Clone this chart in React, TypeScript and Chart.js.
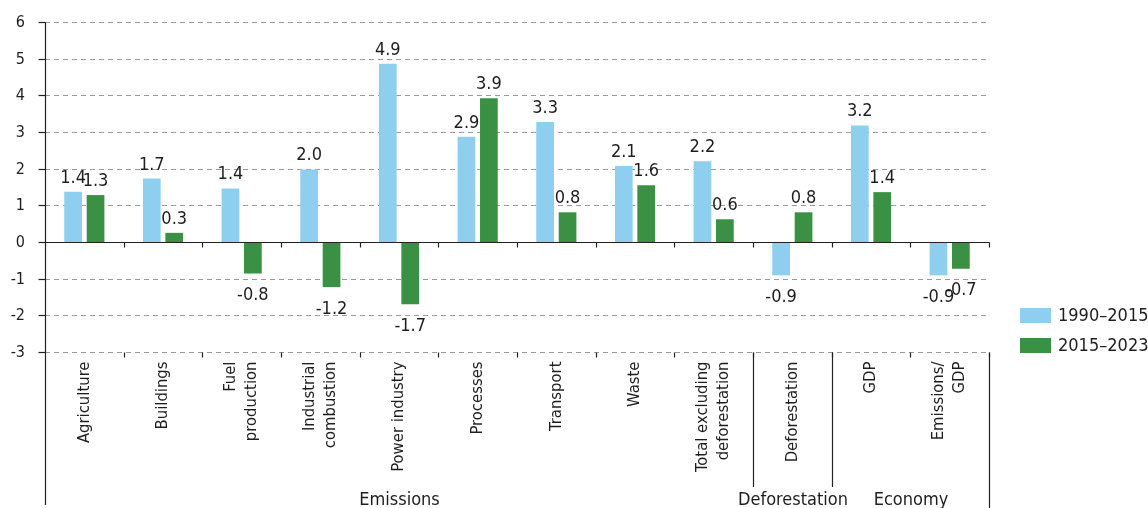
import React, { useEffect, useRef } from "react";
import { Chart, registerables } from "chart.js";

Chart.register(...registerables);

const categories: string[][] = [
  ["Agriculture"],
  ["Buildings"],
  ["Fuel", "production"],
  ["Industrial", "combustion"],
  ["Power industry"],
  ["Processes"],
  ["Transport"],
  ["Waste"],
  ["Total excluding", "deforestation"],
  ["Deforestation"],
  ["GDP"],
  ["Emissions/", "GDP"],
];
const seriesNames = ["1990–2015", "2015–2023"];
const values1990 = [1.37, 1.73, 1.46, 1.98, 4.86, 2.87, 3.27, 2.07, 2.2, -0.91, 3.18, -0.91];
const values2015 = [1.28, 0.25, -0.86, -1.23, -1.7, 3.92, 0.81, 1.55, 0.62, 0.81, 1.36, -0.73];
const labels1990 = ["1.4", "1.7", "1.4", "2.0", "4.9", "2.9", "3.3", "2.1", "2.2", "-0.9", "3.2", "-0.9"];
const labels2015 = ["1.3", "0.3", "-0.8", "-1.2", "-1.7", "3.9", "0.8", "1.6", "0.6", "0.8", "1.4", "-0.7"];
const groupNames = ["Emissions", "Deforestation", "Economy"];
const groupSizes = [9, 1, 2];
const yTicks = [-3, -2, -1, 0, 1, 2, 3, 4, 5, 6];

const BLUE = "#8ecfef";
const GREEN = "#3a9144";
const TEXT = "#1e1e1e";
const AXIS = "#222222";
const FONT = '"DejaVu Sans Condensed", "DejaVu Sans", sans-serif';

const decorPlugin = {
  id: "decor",
  beforeDatasetsDraw(chart: any) {
    const { ctx, chartArea } = chart;
    const y = chart.scales.y;
    ctx.save();
    ctx.strokeStyle = "#9a9a9a";
    ctx.lineWidth = 1;
    ctx.setLineDash([5, 4]);
    yTicks.forEach((v) => {
      if (v === 0) return;
      const py = Math.round(y.getPixelForValue(v)) + 0.5;
      ctx.beginPath();
      ctx.moveTo(chartArea.left, py);
      ctx.lineTo(chartArea.right, py);
      ctx.stroke();
    });
    ctx.restore();
  },
  afterDatasetsDraw(chart: any) {
    const { ctx, chartArea } = chart;
    const x = chart.scales.x;
    const y = chart.scales.y;
    const left = Math.round(chartArea.left) + 0.5;
    const right = Math.round(chartArea.right) + 0.5;
    const y0 = Math.round(y.getPixelForValue(0)) + 0.5;
    const yb = Math.round(y.getPixelForValue(-3)) + 0.5;
    const n = categories.length;
    const catW = (chartArea.right - chartArea.left) / n;
    const boundary = (i: number) => Math.round(chartArea.left + i * catW) + 0.5;

    ctx.save();
    ctx.strokeStyle = AXIS;
    ctx.lineWidth = 1.2;
    ctx.setLineDash([]);

    // zero line
    ctx.beginPath();
    ctx.moveTo(left, y0);
    ctx.lineTo(right, y0);
    ctx.stroke();

    // left axis
    ctx.beginPath();
    ctx.moveTo(left, Math.round(chartArea.top) + 0.5);
    ctx.lineTo(left, 505);
    ctx.stroke();

    // y tick marks
    yTicks.forEach((v) => {
      const py = Math.round(y.getPixelForValue(v)) + 0.5;
      ctx.beginPath();
      ctx.moveTo(left - 7, py);
      ctx.lineTo(left, py);
      ctx.stroke();
    });

    // category boundary ticks
    for (let i = 1; i <= n; i++) {
      const bx = boundary(i);
      ctx.beginPath();
      ctx.moveTo(bx, y0);
      ctx.lineTo(bx, y0 + 5);
      ctx.stroke();
      ctx.beginPath();
      ctx.moveTo(bx, yb);
      ctx.lineTo(bx, yb + 5);
      ctx.stroke();
    }

    // group separators
    let acc = 0;
    groupSizes.forEach((s, gi) => {
      acc += s;
      const bx = boundary(acc);
      ctx.beginPath();
      ctx.moveTo(bx, yb);
      ctx.lineTo(bx, gi === groupSizes.length - 1 ? 508 : 487);
      ctx.stroke();
    });

    // y tick labels
    ctx.fillStyle = TEXT;
    ctx.font = `16px ${FONT}`;
    ctx.textAlign = "right";
    ctx.textBaseline = "middle";
    yTicks.forEach((v) => {
      const py = y.getPixelForValue(v);
      ctx.fillText(String(v), 25, py + 1);
    });

    // data labels
    ctx.font = `18px ${FONT}`;
    ctx.textAlign = "center";
    const series = [labels1990, labels2015];
    const vals = [values1990, values2015];
    series.forEach((labs, di) => {
      const meta = chart.getDatasetMeta(di);
      meta.data.forEach((bar: any, i: number) => {
        const v = vals[di][i];
        if (v >= 0) {
          ctx.textBaseline = "alphabetic";
          ctx.fillText(labs[i], bar.x, bar.y - 9);
        } else {
          ctx.textBaseline = "top";
          ctx.fillText(labs[i], bar.x, bar.y + 13);
        }
      });
    });

    // category labels (rotated)
    ctx.font = `16.5px ${FONT}`;
    ctx.textAlign = "right";
    ctx.textBaseline = "middle";
    categories.forEach((lines, i) => {
      const cx = x.getPixelForValue(i);
      ctx.save();
      ctx.translate(cx, yb + 9);
      ctx.rotate(-Math.PI / 2);
      lines.forEach((line, li) => {
        const off = (li - (lines.length - 1) / 2) * 21;
        ctx.fillText(line, 0, off);
      });
      ctx.restore();
    });

    // group labels
    ctx.font = `18px ${FONT}`;
    ctx.textAlign = "center";
    ctx.textBaseline = "alphabetic";
    let start = 0;
    groupSizes.forEach((s, gi) => {
      const gx = (boundary(start) + boundary(start + s)) / 2;
      ctx.fillText(groupNames[gi], gx, 505);
      start += s;
    });

    // legend
    const colors = [BLUE, GREEN];
    ctx.textAlign = "left";
    ctx.textBaseline = "middle";
    seriesNames.forEach((name, i) => {
      const top = 308 + i * 30;
      ctx.fillStyle = colors[i];
      ctx.fillRect(1020, top, 31, 15);
      ctx.fillStyle = TEXT;
      ctx.fillText(name, 1058, top + 8);
    });

    ctx.restore();
  },
};

export default function App() {
  const canvasRef = useRef<HTMLCanvasElement | null>(null);

  useEffect(() => {
    const canvas = canvasRef.current;
    if (!canvas) return;
    const chart = new Chart(canvas, {
      type: "bar",
      data: {
        labels: categories.map((c) => c.join(" ")),
        datasets: [
          {
            label: seriesNames[0],
            data: values1990,
            backgroundColor: BLUE,
            borderWidth: 0,
            categoryPercentage: 0.57,
            barPercentage: 0.79,
          },
          {
            label: seriesNames[1],
            data: values2015,
            backgroundColor: GREEN,
            borderWidth: 0,
            categoryPercentage: 0.57,
            barPercentage: 0.79,
          },
        ],
      },
      options: {
        responsive: false,
        animation: false,
        devicePixelRatio: 1,
        layout: { padding: { left: 0, right: 159, top: 22, bottom: 156 } },
        plugins: {
          legend: { display: false },
          tooltip: { enabled: false },
        },
        scales: {
          x: { display: false, offset: true, grid: { display: false } },
          y: {
            min: -3,
            max: 6,
            ticks: { display: false, stepSize: 1 },
            grid: { display: false },
            border: { display: false },
            afterFit: (s: any) => {
              s.width = 45;
            },
          },
        },
      },
      plugins: [decorPlugin],
    } as any);
    return () => chart.destroy();
  }, []);

  return (
    <div style={{ position: "absolute", left: 0, top: 0, width: 1148, height: 508, background: "#fff" }}>
      <canvas ref={canvasRef} width={1148} height={508} style={{ display: "block", width: 1148, height: 508 }} />
    </div>
  );
}
